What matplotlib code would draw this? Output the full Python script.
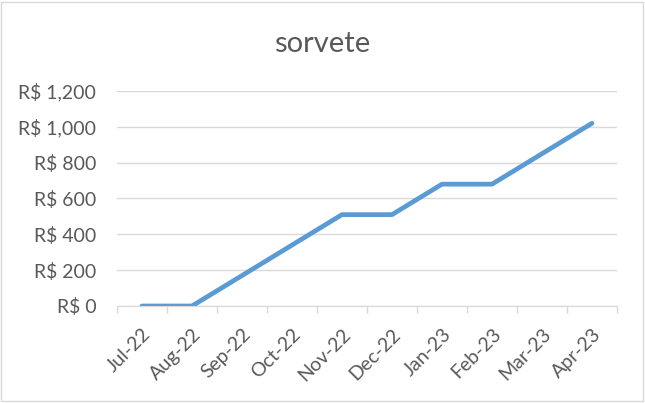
import matplotlib.pyplot as plt
from matplotlib.ticker import FuncFormatter
from matplotlib.patches import Rectangle
import numpy as np

months = ['Jul-22', 'Aug-22', 'Sep-22', 'Oct-22', 'Nov-22', 'Dec-22',
          'Jan-23', 'Feb-23', 'Mar-23', 'Apr-23']
sorvete = [0, 0, 170, 340, 510, 510, 680, 680, 850, 1020]

plt.rcParams['font.family'] = ['Lato', 'DejaVu Sans']

fig = plt.figure(figsize=(6.45, 4.03), dpi=100)
fig.patches.append(Rectangle((0.002, 0.004), 0.995, 0.992, transform=fig.transFigure,
                             fill=False, edgecolor='#D9D9D9', linewidth=1))
ax = fig.add_axes([0.1814, 0.2407, 0.7752, 0.5335])

x = np.arange(len(months))
ax.plot(x, sorvete, color='#5B9BD5', linewidth=3.4, solid_capstyle='round', solid_joinstyle='round')

ax.set_xlim(-0.5, len(months) - 0.5)
ax.set_ylim(0, 1200)
ax.set_yticks(np.arange(0, 1201, 200))
ax.yaxis.set_major_formatter(FuncFormatter(lambda v, p: 'R$ {:,.0f}'.format(v)))
ax.grid(axis='y', color='#D9D9D9', linewidth=1)
ax.set_axisbelow(True)

ax.set_xticks(x)
ax.set_xticklabels(months, rotation=45, ha='right', rotation_mode='anchor')
ax.set_xticks(np.arange(-0.5, len(months)), minor=True)
ax.tick_params(axis='x', which='major', length=0, pad=14, labelsize=14, labelcolor='#595959')
ax.tick_params(axis='x', which='minor', length=5, color='#D9D9D9', width=1)
ax.tick_params(axis='y', length=0, pad=15, labelsize=14, labelcolor='#595959')

for s in ['top', 'right', 'left']:
    ax.spines[s].set_visible(False)
ax.spines['bottom'].set_color('#D9D9D9')

fig.text(0.5, 0.89, 'sorvete', ha='center', va='center', fontsize=21, color='#595959')

plt.savefig('out.png', dpi=100)
